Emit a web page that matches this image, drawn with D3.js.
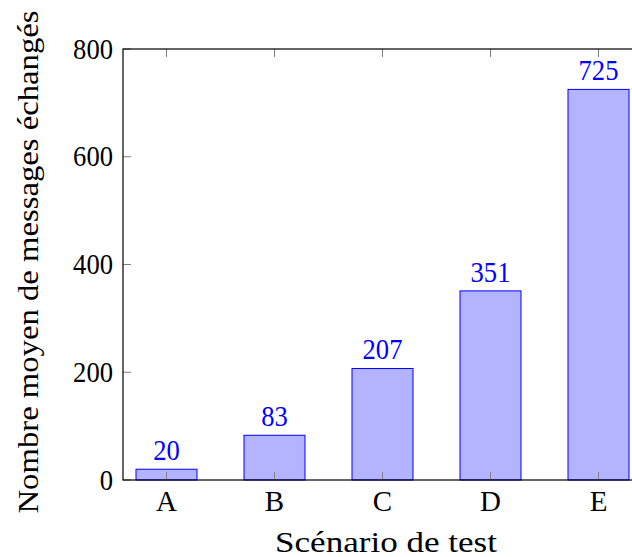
<!DOCTYPE html>
<html><head><meta charset="utf-8">
<script src="https://cdn.jsdelivr.net/npm/d3@7"></script>
<style>body{margin:0;background:#fff}svg{display:block}text{font-family:"Liberation Serif",serif}</style>
</head><body><svg id="c" width="632" height="557"></svg>
<script>
const categories = ["A","B","C","D","E"];
const values = [20, 83, 207, 351, 725];
const yTicks = [0, 200, 400, 600, 800];
const xTitle = "Scénario de test";
const yTitle = "Nombre moyen de messages échangés";

const svg = d3.select("#c");
const L = 123, R = 642, T = 49, B = 480;
const x = d3.scalePoint().domain(categories).range([166.5, 598.5]);
const y = d3.scaleLinear().domain([0, 800]).range([B, T]);
const bw = 61;
const fs = 29;

svg.selectAll("rect.bar").data(values).join("rect")
  .attr("x", (d,i) => x(categories[i]) - bw/2)
  .attr("y", d => y(d))
  .attr("width", bw)
  .attr("height", d => B - y(d))
  .attr("fill", "#b3b3ff").attr("stroke", "#0000ff").attr("stroke-width", 1);

const tl = 8;
categories.forEach(c => {
  svg.append("line").attr("x1", x(c)).attr("x2", x(c)).attr("y1", B).attr("y2", B - tl).attr("stroke", "#808080");
  svg.append("line").attr("x1", x(c)).attr("x2", x(c)).attr("y1", T).attr("y2", T + tl).attr("stroke", "#808080");
});
yTicks.forEach(t => {
  svg.append("line").attr("x1", L).attr("x2", L + tl).attr("y1", y(t)).attr("y2", y(t)).attr("stroke", "#808080");
});

svg.append("rect").attr("x", L).attr("y", T).attr("width", R - L).attr("height", B - T)
  .attr("fill", "none").attr("stroke", "#000").attr("stroke-width", 1.2);

svg.selectAll("text.yt").data(yTicks).join("text")
  .attr("x", L - 10).attr("y", d => y(d)).attr("dy", "0.33em")
  .attr("text-anchor", "end").attr("font-size", fs).attr("textLength", d => String(d).length * 13.3).attr("lengthAdjust", "spacingAndGlyphs").text(d => d);
svg.selectAll("text.xt").data(categories).join("text")
  .attr("x", d => x(d)).attr("y", B + 31)
  .attr("text-anchor", "middle").attr("font-size", fs).text(d => d);

svg.selectAll("text.vl").data(values).join("text")
  .attr("x", (d,i) => x(categories[i])).attr("y", d => y(d) - 9)
  .attr("text-anchor", "middle").attr("font-size", fs).attr("fill", "#0000ff")
  .attr("textLength", d => String(d).length * 13.3).attr("lengthAdjust", "spacingAndGlyphs").text(d => d);

svg.append("text").attr("x", 386).attr("y", 552).attr("text-anchor", "middle")
  .attr("font-size", fs).attr("textLength", 222).attr("lengthAdjust", "spacingAndGlyphs").text(xTitle);
svg.append("text").attr("transform", "translate(38,262) rotate(-90)").attr("text-anchor", "middle")
  .attr("font-size", fs).attr("textLength", 503).attr("lengthAdjust", "spacingAndGlyphs").text(yTitle);
</script></body></html>
